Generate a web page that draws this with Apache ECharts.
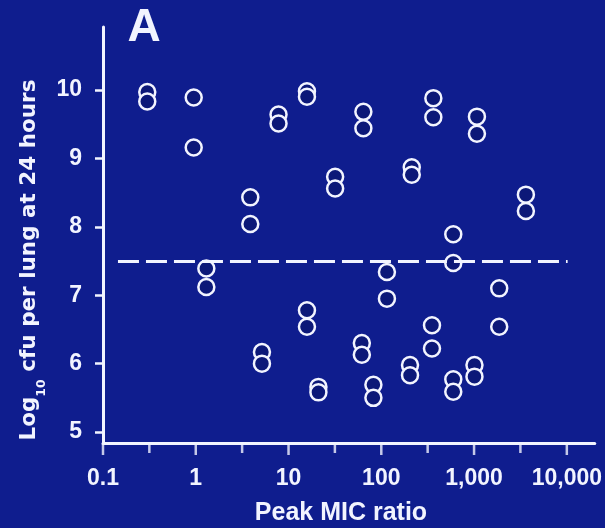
<!DOCTYPE html>
<html>
<head>
<meta charset="utf-8">
<script src="https://cdn.jsdelivr.net/npm/echarts@6/dist/echarts.min.js"></script>
<style>
html,body{margin:0;padding:0;background:#0f1d8e;}
#chart{width:605px;height:528px;}
</style>
</head>
<body>
<div id="chart"></div>
<script>
// Peak MIC ratio of each animal group (two mice per group)
const micRatio   = [0.30, 0.95, 1.30, 3.87, 5.17, 7.80, 15.8, 15.8, 21.0, 31.8, 61.7, 64.1, 82.2, 115, 204, 213, 352, 364, 597, 597, 1010, 1074, 1867, 3620];
const cfuUpper   = [9.97, 9.89, 7.39, 8.43, 6.17, 9.64, 9.98, 6.78, 5.66, 8.73, 6.30, 9.68, 5.69, 7.34, 5.98, 8.87, 6.56, 9.88, 7.89, 5.77, 5.98, 9.61, 7.10, 8.47];
const cfuLower   = [9.83, 9.16, 7.12, 8.04, 6.00, 9.51, 9.90, 6.54, 5.58, 8.56, 6.13, 9.44, 5.50, 6.95, 5.83, 8.76, 6.22, 9.60, 7.47, 5.59, 5.81, 9.36, 6.54, 8.23];

// x tick labels (0.1, 1, 10, 100, 1,000, 10,000) are the log axis' own decade labels
const xMajorTicks  = [0.1, 1, 10, 100, 1000, 10000];
const xMinorTicks  = [0.316, 3.16, 31.6, 316, 3160];
const yTickValues  = [5, 6, 7, 8, 9, 10];
const threshold    = 7.5;
const thresholdFrom = 0.145;
const thresholdTo   = 10200;
const xRange = [0.1, 20000];
const yRange = [4.84, 10.92];

const points = [];
for (let i = 0; i < micRatio.length; i++) {
  points.push([micRatio[i], cfuUpper[i]]);
  points.push([micRatio[i], cfuLower[i]]);
}
// x-axis tick marks hang below the axis line (at the bottom of the y range)
const majorTickPts = xMajorTicks.map(v => [v, yRange[0]]);
const minorTickPts = xMinorTicks.map(v => [v, yRange[0]]);

const WHITE = '#f2f4ff';
const BG = '#0f1d8e';
const tickFont = { color: WHITE, fontFamily: 'Liberation Sans, Arial, sans-serif', fontWeight: 'bold', fontSize: 23 };

const chart = echarts.init(document.getElementById('chart'));
chart.setOption({
  animation: false,
  backgroundColor: BG,
  grid: { left: 103, right: 10, top: 27, bottom: 85 },
  xAxis: {
    type: 'log',
    min: xRange[0],
    max: xRange[1],
    axisLine: { show: true, lineStyle: { color: WHITE, width: 3 } },
    axisTick: { show: false },
    axisLabel: Object.assign({ show: true, margin: 24 }, tickFont),
    splitLine: { show: false }
  },
  yAxis: {
    type: 'value',
    min: yRange[0],
    max: yRange[1],
    axisLine: { show: true, lineStyle: { color: WHITE, width: 3 } },
    axisTick: { show: true, length: 8, customValues: yTickValues, lineStyle: { color: WHITE, width: 2.5 } },
    axisLabel: Object.assign({ show: true, margin: 21, customValues: yTickValues }, tickFont),
    splitLine: { show: false }
  },
  series: [{
    type: 'scatter',
    data: points,
    symbol: 'circle',
    symbolSize: 16,
    itemStyle: { color: '#0c1878', borderColor: WHITE, borderWidth: 2.5, opacity: 1 },
    markLine: {
      silent: true,
      symbol: ['none', 'none'],
      label: { show: false },
      lineStyle: { color: WHITE, width: 3, type: [21, 7] },
      data: [[{ coord: [thresholdFrom, threshold] }, { coord: [thresholdTo, threshold] }]]
    }
  }, {
    type: 'scatter',
    data: majorTickPts,
    symbol: 'rect',
    symbolSize: [2.5, 11],
    symbolOffset: [0, 6.5],
    clip: false,
    silent: true,
    itemStyle: { color: WHITE },
    z: 1
  }, {
    type: 'scatter',
    data: minorTickPts,
    symbol: 'rect',
    symbolSize: [2.5, 9],
    symbolOffset: [0, 5.5],
    clip: false,
    silent: true,
    itemStyle: { color: WHITE },
    z: 1
  }],
  graphic: [
    {
      type: 'text', x: 144, y: 28,
      style: { text: 'A', fill: WHITE, font: 'bold 46px "Liberation Sans", Arial, sans-serif', align: 'center', verticalAlign: 'middle' }
    },
    {
      type: 'text', x: 341, y: 513,
      style: { text: 'Peak MIC ratio', fill: WHITE, font: 'bold 25px "Liberation Sans", Arial, sans-serif', align: 'center', verticalAlign: 'middle' }
    },
    {
      type: 'text', x: 33, y: 260, rotation: Math.PI / 2,
      style: {
        text: '{n|Log}{s|10}{n| cfu per lung at 24 hours}',
        fill: WHITE,
        align: 'center', verticalAlign: 'middle',
        rich: {
          n: { fontFamily: 'DejaVu Sans', fontWeight: 'bold', fontSize: 21.5, lineHeight: 24, verticalAlign: 'top', fill: WHITE },
          s: { fontFamily: 'DejaVu Sans', fontWeight: 'bold', fontSize: 12.5, verticalAlign: 'top', padding: [17, 0, 0, 0], fill: WHITE }
        }
      }
    }
  ]
});
</script>
</body>
</html>
